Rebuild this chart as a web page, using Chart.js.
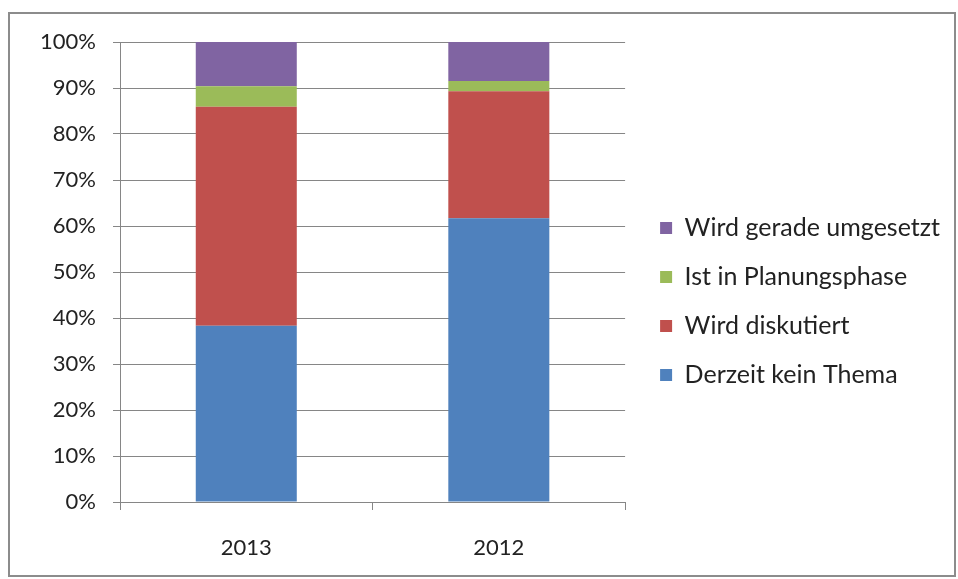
<!DOCTYPE html>
<html lang="de">
<head>
<meta charset="UTF-8">
<title>Umsetzung</title>
<script src="https://cdn.jsdelivr.net/npm/chart.js"></script>
<style>
    html, body { margin: 0; padding: 0; background: #fff; }
    body { width: 958px; height: 579px; position: relative; overflow: hidden; }
    #box { position: absolute; left: 8px; top: 12px; width: 944px; height: 561px; border: 2px solid #8c8c8c; }
    #box canvas { position: absolute; left: 0; top: 0; }
</style>
</head>
<body>
<div id="box"><canvas id="chart" width="944" height="561"></canvas></div>
<script>
const jahre = ['2013', '2012'];
const keinThema   = [38.3, 61.7];
const diskutiert  = [47.6, 27.6];
const planung     = [4.5, 2.2];
const umgesetzt   = [9.6, 8.5];

const FONT = 'Lato';

// schiebt die Legende etwas nach rechts/oben, wie im Original
const legendNudge = {
    id: 'legendNudge',
    afterLayout(chart, args, opts) {
        const lg = chart.legend;
        lg.left += opts.x; lg.right += opts.x;
        lg.top += opts.y; lg.bottom += opts.y;
    }
};

const ctx = document.getElementById('chart').getContext('2d');
const chart = new Chart(ctx, {
    type: 'bar',
    data: {
        labels: jahre,
        datasets: [
            { label: 'Derzeit kein Thema', data: keinThema, backgroundColor: '#4f81bd' },
            { label: 'Wird diskutiert', data: diskutiert, backgroundColor: '#c0504d' },
            { label: 'Ist in Planungsphase', data: planung, backgroundColor: '#9bbb59' },
            { label: 'Wird gerade umgesetzt', data: umgesetzt, backgroundColor: '#8064a2' }
        ]
    },
    options: {
        responsive: false,
        animation: false,
        layout: { padding: { top: 28, right: 15, bottom: 0, left: 0 } },
        datasets: { bar: { barPercentage: 0.4, categoryPercentage: 1 } },
        plugins: {
            tooltip: { enabled: false },
            legendNudge: { x: 11, y: -7 },
            legend: {
                position: 'right',
                reverse: true,
                maxWidth: 400,
                labels: {
                    font: { family: FONT, size: 25 },
                    color: '#222',
                    boxWidth: 12,
                    boxHeight: 12,
                    padding: 24
                }
            }
        },
        scales: {
            x: {
                stacked: true,
                afterFit(scale) { scale.height = 73; },
                grid: { drawOnChartArea: false, drawTicks: true, tickLength: 8, color: '#868686' },
                border: { display: true, color: '#868686' },
                ticks: { font: { family: FONT, size: 22 }, color: '#222', padding: 25 }
            },
            y: {
                stacked: true,
                min: 0,
                max: 100,
                afterFit(scale) {
                    scale.width = 110;
                    scale.paddingTop = 0;
                    scale.paddingBottom = 0;
                },
                grid: { color: '#868686', tickLength: 7 },
                border: { display: true, color: '#868686' },
                ticks: {
                    stepSize: 10,
                    font: { family: FONT, size: 22 },
                    color: '#222',
                    padding: 17,
                    callback: v => v + '%'
                }
            }
        }
    },
    plugins: [legendNudge]
});
</script>
</body>
</html>
